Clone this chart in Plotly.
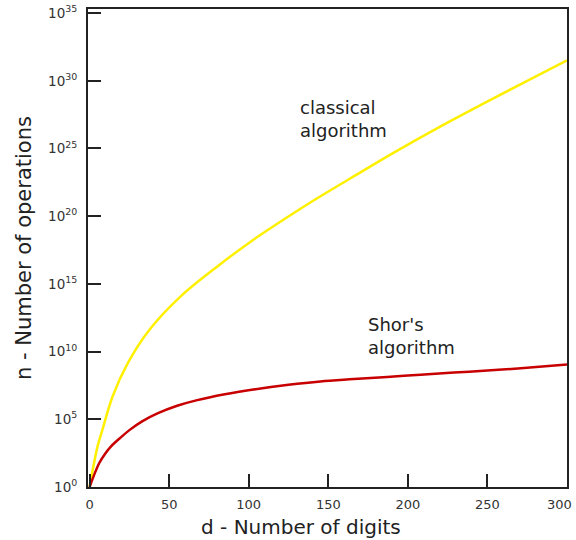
import plotly.graph_objects as go

# d - number of digits, and log10 of operation counts
classical_d = [0, 5, 8, 14.5, 24, 37.5, 57.4, 81.5, 101, 122, 142, 164, 192, 220, 248, 275, 300]
classical_exp = [0, 3.0, 4.2, 6.7, 9.15, 11.6, 14.1, 16.4, 18.1, 19.75, 21.25, 22.8, 24.75, 26.6, 28.35, 30.0, 31.5]

shor_d = [0, 6, 10, 13.5, 19, 25, 33, 43, 55, 67, 85, 103, 125, 145, 166, 187, 208, 229, 250, 271, 300]
shor_exp = [0, 1.75, 2.5, 3.0, 3.6, 4.2, 4.85, 5.45, 6.0, 6.4, 6.85, 7.2, 7.55, 7.8, 7.97, 8.13, 8.29, 8.45, 8.6, 8.77, 9.05]

x_ticks = [0, 50, 100, 150, 200, 250, 300]
x_tick_labels = ["0", "50", "100", "150", "200", "250", "300"]
y_tick_exps = [0, 5, 10, 15, 20, 25, 30, 35]
y_tick_labels = ["10<sup>%d</sup>" % e for e in y_tick_exps]

FONT = "DejaVu Sans"
W, H = 576, 540
ML, MR, MT, MB = 88, 9, 9, 53
PW, PH = W - ML - MR, H - MT - MB


def px_to_paper(px, py):
    return (px - ML) / PW, (H - MB - py) / PH


fig = go.Figure()
fig.add_trace(go.Scatter(
    x=classical_d, y=[10.0 ** e for e in classical_exp], mode="lines",
    line=dict(color="#FFF000", width=2.5, shape="spline", smoothing=1.0),
    showlegend=False, hoverinfo="skip"))
fig.add_trace(go.Scatter(
    x=shor_d, y=[10.0 ** e for e in shor_exp], mode="lines",
    line=dict(color="#C80000", width=2.5, shape="spline", smoothing=1.0),
    showlegend=False, hoverinfo="skip"))

xt_x, xt_y = px_to_paper(301, 527)
yt_x, yt_y = px_to_paper(24, 248)
last_x, last_y = px_to_paper(574, 504)

# the last x tick label is drawn as an annotation so it stays inside the page
tick_text_shown = x_tick_labels[:-1] + [""]

fig.update_layout(
    width=W, height=H,
    margin=dict(l=ML, r=MR, t=MT, b=MB, autoexpand=False),
    paper_bgcolor="white", plot_bgcolor="white",
    font=dict(family=FONT, color="#333333", size=13),
    xaxis=dict(range=[-1, 300], tickvals=x_ticks, ticktext=tick_text_shown,
               ticks="inside", ticklen=13,
               tickwidth=1.5, tickcolor="#222222", showgrid=False, zeroline=False,
               showline=True, linecolor="#222222", linewidth=2, mirror=True,
               automargin=False, ticklabelstandoff=4,
               tickfont=dict(size=13, color="#333333")),
    yaxis=dict(type="log", range=[0, 35.3], tickvals=[10.0 ** e for e in y_tick_exps],
               ticktext=y_tick_labels, ticks="inside", ticklen=13, tickwidth=1.5,
               tickcolor="#222222", showgrid=False, zeroline=False,
               showline=True, linecolor="#222222", linewidth=2, mirror=True,
               automargin=False, ticklabeloverflow="allow",
               ticklabelstandoff=6, tickfont=dict(size=13.5, color="#333333")),
    annotations=[
        dict(text="classical<br>algorithm", x=131, y=27.15, xref="x", yref="y",
             xanchor="left", yanchor="middle", align="left", showarrow=False,
             font=dict(family=FONT, size=18, color="#222222")),
        dict(text="Shor's<br>algorithm", x=174, y=11.17, xref="x", yref="y",
             xanchor="left", yanchor="middle", align="left", showarrow=False,
             font=dict(family=FONT, size=18, color="#222222")),
        dict(text=x_tick_labels[-1], x=last_x, y=last_y, xref="paper", yref="paper",
             xanchor="right", yanchor="middle", showarrow=False,
             font=dict(family=FONT, size=13, color="#333333")),
        dict(text="d - Number of digits", x=xt_x, y=xt_y, xref="paper", yref="paper",
             xanchor="center", yanchor="middle", showarrow=False,
             font=dict(family=FONT, size=20, color="#222222")),
        dict(text="n - Number of operations", x=yt_x, y=yt_y, xref="paper", yref="paper",
             xanchor="center", yanchor="middle", textangle=-90, showarrow=False,
             font=dict(family=FONT, size=21, color="#222222")),
    ],
)

fig.write_html("out.html")
